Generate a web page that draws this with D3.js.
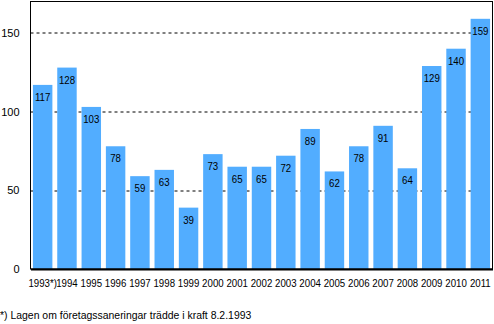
<html>
<head>
<meta charset="utf-8">
<style>
  body { margin: 0; background: #fff; }
  text { font-family: "Liberation Sans", Arial, sans-serif; }
</style>
</head>
<body>
<svg id="plot"></svg>
<script src="https://d3js.org/d3.v7.min.js"></script>
<script>
// data
var years = ["1993*)", "1994", "1995", "1996", "1997", "1998", "1999", "2000", "2001", "2002",
             "2003", "2004", "2005", "2006", "2007", "2008", "2009", "2010", "2011"];
var counts = [117, 128, 103, 78, 59, 63, 39, 73, 65, 65, 72, 89, 62, 78, 91, 64, 129, 140, 159];
var yTicks = [0, 50, 100, 150];
var footnote = "*) Lagen om företagssaneringar trädde i kraft 8.2.1993";

var screen = {width: 494, height: 324};
var margins = {top: 1.5, bottom: 55, left: 30.5, right: 1.5};
var graph = {
    width: screen.width - margins.left - margins.right,
    height: screen.height - margins.top - margins.bottom
};

// narrow-looking text like the original
var squeeze = "scale(0.88,1)";

var svg = d3.select("#plot")
    .attr("width", screen.width)
    .attr("height", screen.height);

var xScale = d3.scaleBand()
    .domain(years)
    .range([0, graph.width])
    .paddingInner(0.2)
    .paddingOuter(0.1);

var yScale = d3.scaleLinear()
    .domain([0, 170])
    .range([graph.height, 0]);

var g = svg.append("g")
    .attr("transform", "translate(" + margins.left + "," + margins.top + ")");

// dashed grid lines
g.selectAll(".grid")
    .data(yTicks.filter(function(d) { return d > 0; }))
    .enter()
    .append("line")
    .attr("x1", 0)
    .attr("x2", graph.width)
    .attr("y1", function(d) { return Math.round(yScale(d)) + 0.5; })
    .attr("y2", function(d) { return Math.round(yScale(d)) + 0.5; })
    .attr("stroke", "black")
    .attr("stroke-dasharray", "3,3");

// bars
g.selectAll("rect.bar")
    .data(counts)
    .enter()
    .append("rect")
    .attr("class", "bar")
    .attr("x", function(d, i) { return xScale(years[i]); })
    .attr("y", function(d) { return yScale(d); })
    .attr("width", xScale.bandwidth())
    .attr("height", function(d) { return graph.height - yScale(d); })
    .attr("fill", "#52adff");

// value labels
g.selectAll("g.val")
    .data(counts)
    .enter()
    .append("g")
    .attr("class", "val")
    .attr("transform", function(d, i) {
        return "translate(" + (xScale(years[i]) + xScale.bandwidth() / 2) + "," + (yScale(d) + 16) + ")";
    })
    .append("text")
    .attr("text-anchor", "middle")
    .attr("transform", squeeze)
    .attr("font-size", 11)
    .text(function(d) { return d; });

// frame
svg.append("rect")
    .attr("x", margins.left)
    .attr("y", margins.top)
    .attr("width", graph.width)
    .attr("height", graph.height)
    .attr("fill", "none")
    .attr("stroke", "black");

// axes
var xAxis = d3.axisBottom(xScale).tickSize(0).tickPadding(10);
var yAxis = d3.axisLeft(yScale).tickValues(yTicks).tickSize(0).tickPadding(11);

var xg = g.append("g")
    .attr("transform", "translate(0," + graph.height + ")")
    .call(xAxis);
xg.select(".domain").attr("stroke-width", 2);
xg.selectAll("text")
    .attr("font-size", 11)
    .attr("fill", "black")
    .attr("transform", squeeze);

var yg = g.append("g").call(yAxis);
yg.select(".domain").remove();
yg.selectAll("text").attr("font-size", 11).attr("fill", "black");

svg.append("text")
    .attr("x", 0)
    .attr("y", 319)
    .attr("font-size", 11)
    .attr("transform", "scale(0.95,1)")
    .text(footnote);
</script>
</body>
</html>
